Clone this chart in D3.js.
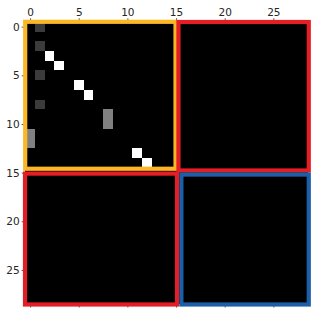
<!DOCTYPE html>
<html>
<head>
<meta charset="utf-8">
<script src="https://cdn.jsdelivr.net/npm/d3@7"></script>
<style>
  body { margin: 0; background: #fff; }
  svg text { font-family: "DejaVu Sans", sans-serif; font-size: 10.5px; fill: #262626; }
</style>
</head>
<body>
<div id="chart"></div>
<script>
let width  = 316,
    height = 311,
    n = 29;

// non-zero entries of the matrix (row, col, value)
let cellRows = [0, 2, 3, 4, 5, 6, 7, 8, 9, 10, 11, 12, 13, 14];
let cellCols = [1, 1, 2, 3, 1, 5, 6, 1, 8, 8, 0, 0, 11, 12];
let cellVals = [0.23, 0.23, 1, 1, 0.23, 1, 1, 0.23, 0.5, 0.5, 0.5, 0.5, 1, 1];

let tickValues = [0, 5, 10, 15, 20, 25];

// block outlines: [x0, y0, x1, y1] in cell units
let blockNames  = ["A-A", "A-B", "B-A", "B-B"];
let blockX0 = [-0.5, 15.25, -0.52, 15.55];
let blockY0 = [-0.5, -0.48, 15.1, 15.2];
let blockX1 = [14.95, 28.64, 15.1, 28.64];
let blockY1 = [14.6, 14.78, 28.55, 28.55];
let blockColors = ["#fbb726", "#e31e24", "#e31e24", "#1b5fa9"];

let matrix = d3.range(n).map(function() { return d3.range(n).map(function() { return 0; }); });
cellRows.forEach(function(r, i) { matrix[r][cellCols[i]] = cellVals[i]; });

let cells = [];
matrix.forEach(function(row, r) {
  row.forEach(function(v, c) { cells.push({row: r, col: c, value: v}); });
});

let x = d3.scaleLinear().domain([-0.5, n - 0.5]).range([25.2, 307.4]);
let y = d3.scaleLinear().domain([-0.5, n - 0.5]).range([21.8, 304.0]);
let color = d3.scaleLinear().domain([0, 1]).range(["#000", "#fff"]);

let svg =
  d3.select("#chart")
    .append("svg")
      .attr("width", width)
      .attr("height", height);

svg.append("g")
  .selectAll("rect")
  .data(cells)
  .enter()
  .append("rect")
    .attr("x", function(d) { return x(d.col - 0.5); })
    .attr("y", function(d) { return y(d.row - 0.5); })
    .attr("width", x(1) - x(0) + 0.3)
    .attr("height", y(1) - y(0) + 0.3)
    .attr("fill", function(d) { return color(d.value); })
    .attr("shape-rendering", "crispEdges");

let topAxis = svg.append("g")
  .attr("transform", translate(0, y(-0.5)))
  .call(d3.axisTop(x).tickValues(tickValues).tickSize(3.5).tickPadding(2));

let bottomAxis = svg.append("g")
  .attr("transform", translate(0, y(n - 0.5)))
  .call(d3.axisBottom(x).tickValues(tickValues).tickSize(3.5).tickFormat(""));

let leftAxis = svg.append("g")
  .attr("transform", translate(x(-0.5), 0))
  .call(d3.axisLeft(y).tickValues(tickValues).tickSize(3.5).tickPadding(2));

[topAxis, bottomAxis, leftAxis].forEach(function(g) {
  g.select(".domain").remove();
  g.selectAll("line").attr("stroke", "#262626").attr("stroke-width", 0.8);
  g.selectAll("text").attr("font-size", "10.5px").attr("font-family", "DejaVu Sans").attr("fill", "#262626");
});

svg.append("g")
  .selectAll("rect")
  .data(blockNames)
  .enter()
  .append("rect")
    .attr("x", function(d, i) { return x(blockX0[i]); })
    .attr("y", function(d, i) { return y(blockY0[i]); })
    .attr("width", function(d, i) { return x(blockX1[i]) - x(blockX0[i]); })
    .attr("height", function(d, i) { return y(blockY1[i]) - y(blockY0[i]); })
    .attr("fill", "none")
    .attr("stroke", function(d, i) { return blockColors[i]; })
    .attr("stroke-width", 4.2);

function translate(x, y=0) {
  return "translate({x}, {y})"
          .replace("{x}", x)
          .replace("{y}", y);
}
</script>
</body>
</html>
